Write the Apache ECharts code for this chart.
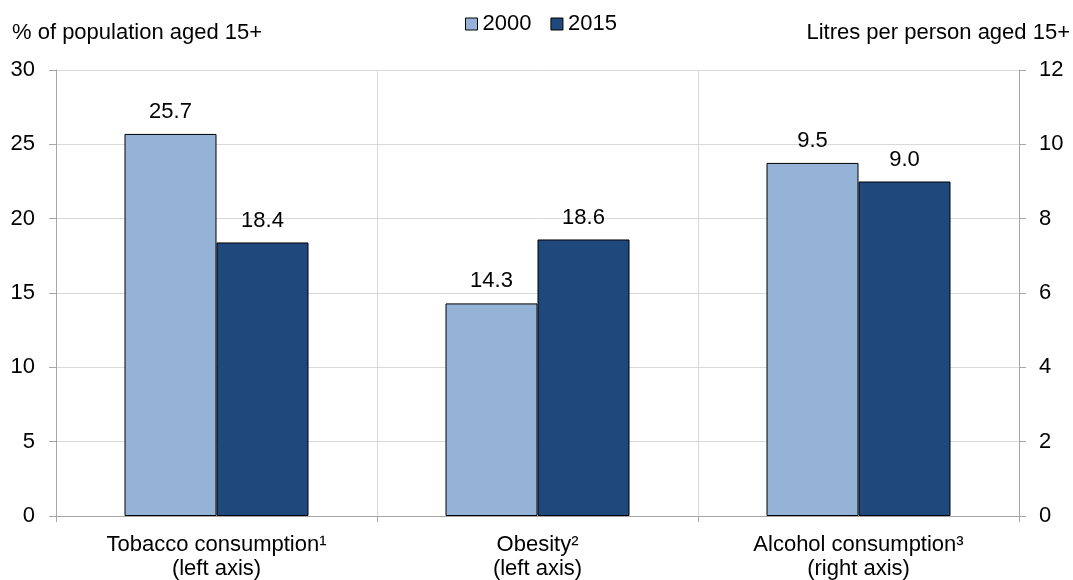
<!DOCTYPE html>
<html><head><meta charset="utf-8">
<script src="https://cdn.jsdelivr.net/npm/echarts@6/dist/echarts.min.js"></script>
<style>html,body{margin:0;padding:0;background:#fff}#c{width:1073px;height:580px}</style>
</head><body><div id="c"></div>
<script>
const categories = ['Tobacco consumption\u00b9\n(left axis)', 'Obesity\u00b2\n(left axis)', 'Alcohol consumption\u00b3\n(right axis)'];
const leftValues2000 = [25.7, 14.3, '-'];
const leftValues2015 = [18.4, 18.6, '-'];
const rightValues2000 = ['-', '-', 9.5];
const rightValues2015 = ['-', '-', 9.0];
const leftTicks = [0, 30, 5];
const rightTicks = [0, 12, 2];

const font = 'Liberation Sans, Arial, sans-serif';
const FS = 22;
const c1 = '#95b3d7', c2 = '#1f497d';
const lbl = {show: true, position: 'top', color: '#000', fontSize: FS, fontFamily: font, distance: 11,
  formatter: p => Number(p.value).toFixed(1)};
const mk = (name, data, color, yi, stack) => ({
  name, type: 'bar', data, yAxisIndex: yi, stack, barWidth: 92, barGap: '0%',
  itemStyle: {color, borderColor: '#000', borderWidth: 1}, label: lbl
});
const chart = echarts.init(document.getElementById('c'));
chart.setOption({
  animation: false,
  textStyle: {fontFamily: font},
  grid: {left: 56, right: 54, top: 70, bottom: 64, containLabel: false, outerBoundsMode: 'none'},
  legend: {
    top: 8, left: 460, icon: 'rect', itemWidth: 12, itemHeight: 12, itemGap: 19,
    textStyle: {fontSize: FS, color: '#000'},
    data: [{name: '2000', itemStyle: {color: c1, borderColor: '#000', borderWidth: 1}},
           {name: '2015', itemStyle: {color: c2, borderColor: '#000', borderWidth: 1}}]
  },
  xAxis: {
    type: 'category', data: categories,
    axisLine: {lineStyle: {color: '#a6a6a6'}},
    axisTick: {show: true, length: 6, lineStyle: {color: '#a6a6a6'}},
    splitLine: {show: true, lineStyle: {color: '#d9d9d9'}},
    axisLabel: {color: '#000', fontSize: FS, lineHeight: 24, margin: 17}
  },
  yAxis: [{
    type: 'value', min: leftTicks[0], max: leftTicks[1], interval: leftTicks[2],
    name: '% of population aged 15+', nameLocation: 'end', nameGap: 26,
    nameTextStyle: {color: '#000', fontSize: FS, align: 'left', padding: [0, 0, 0, -44]},
    axisLine: {show: true, lineStyle: {color: '#a6a6a6'}},
    axisTick: {show: true, length: 7, lineStyle: {color: '#a6a6a6'}},
    splitLine: {show: true, lineStyle: {color: '#d9d9d9'}},
    axisLabel: {color: '#000', fontSize: FS, margin: 21}
  }, {
    type: 'value', min: rightTicks[0], max: rightTicks[1], interval: rightTicks[2], position: 'right',
    name: 'Litres per person aged 15+', nameLocation: 'end', nameGap: 26,
    nameTextStyle: {color: '#000', fontSize: FS, align: 'right', padding: [0, -51, 0, 0]},
    axisLine: {show: true, lineStyle: {color: '#a6a6a6'}},
    axisTick: {show: true, length: 7, lineStyle: {color: '#a6a6a6'}},
    splitLine: {show: false},
    axisLabel: {color: '#000', fontSize: FS, margin: 20}
  }],
  series: [
    mk('2000', leftValues2000, c1, 0, 'a'),
    mk('2015', leftValues2015, c2, 0, 'b'),
    mk('2000', rightValues2000, c1, 1, 'a'),
    mk('2015', rightValues2015, c2, 1, 'b')
  ]
});
</script></body></html>
